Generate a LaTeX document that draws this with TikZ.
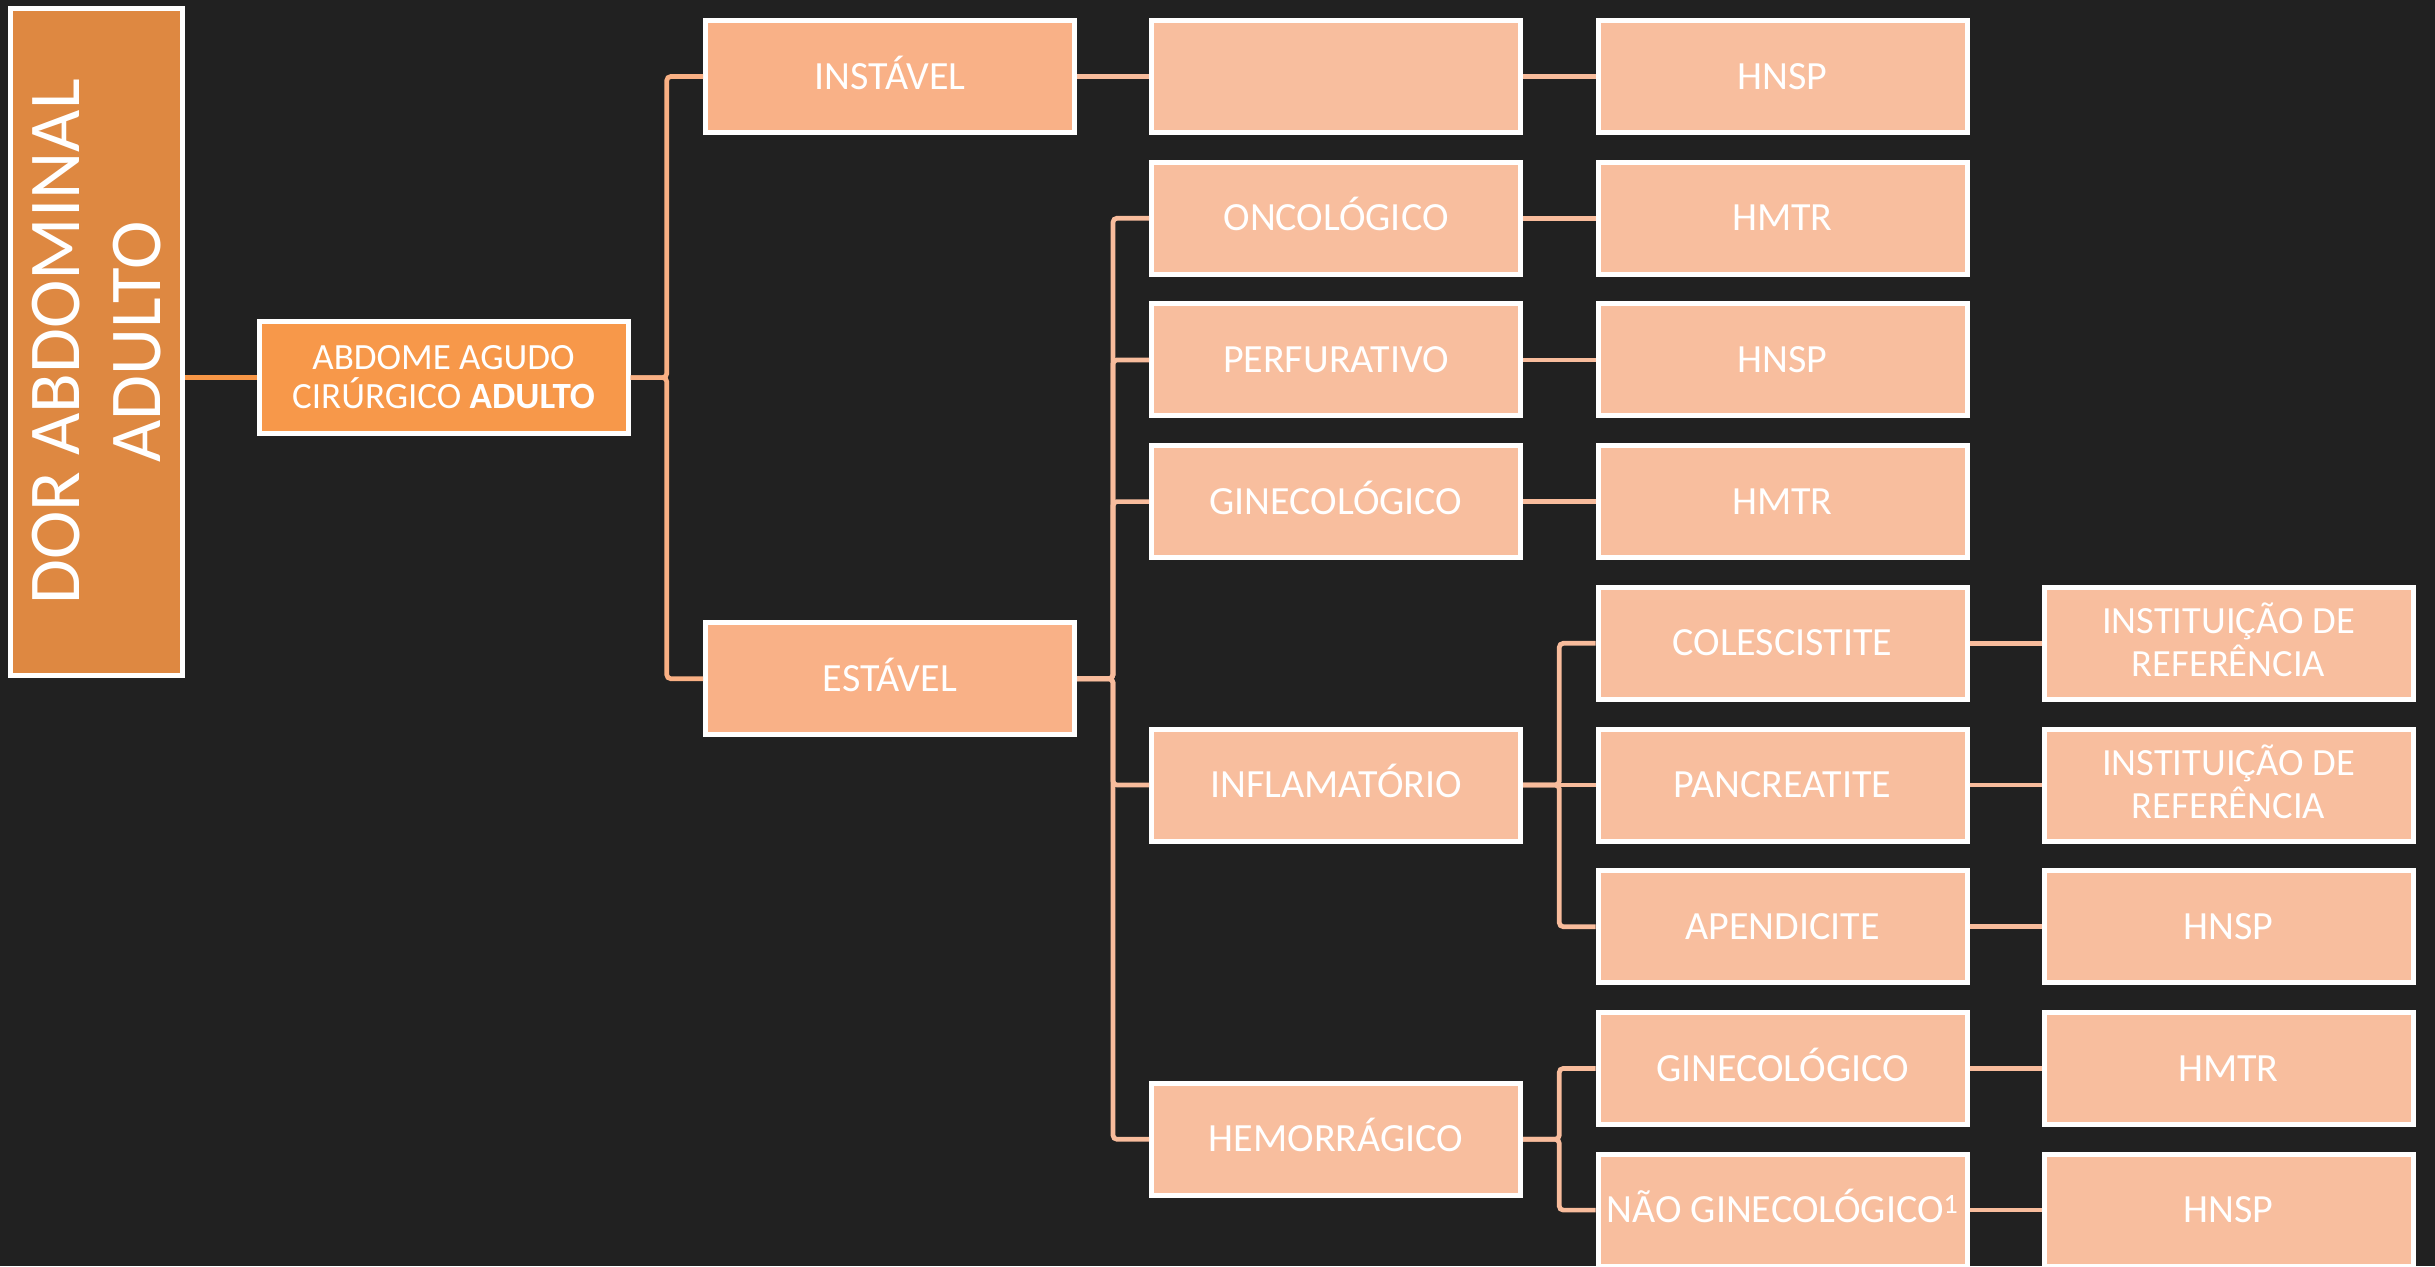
\documentclass[tikz,border=0pt]{standalone}
\usepackage{fontspec}
\setmainfont{Carlito}
\usetikzlibrary{calc}
\definecolor{bgc}{HTML}{212121}
\definecolor{dorfill}{HTML}{DE8841}
\definecolor{abdfill}{HTML}{F7984A}
\definecolor{lvtwo}{HTML}{F9B187}
\definecolor{lvthree}{HTML}{F8BE9E}
\definecolor{conone}{HTML}{F79646}
\definecolor{contwo}{HTML}{F9B084}
\definecolor{conthree}{HTML}{F8BC9C}
\newcommand\myelbow[3]{\draw[#1] (#2.east) -- ($(#2.east)!0.5!(#2.east -| #3.west)$) |- (#3.west);}
\newcommand\mystraight[3]{\draw[#1] (#2.east) -- (#3.west);}
\begin{document}
\begin{tikzpicture}[x=1pt,y=-1pt,
  box/.style={draw=white,line width=5pt,minimum width=369pt,minimum height=112pt,
    inner sep=0pt,align=center,text=white,font=\fontsize{40}{43}\selectfont,
    text height=25.3pt,text depth=0pt},
  boxtwo/.style={box,fill=lvtwo},
  boxthree/.style={box,fill=lvthree},
  twoline/.style={font=\fontsize{38.5}{43}\selectfont,text height=67.3pt,text depth=0pt},
  link/.style={line width=4.7pt,rounded corners=4pt},
  linkone/.style={link,draw=conone},
  linktwo/.style={link,draw=contwo},
  linkthree/.style={link,draw=conthree}]
\fill[bgc] (0,0) rectangle (2435,1266);
\useasboundingbox (0,0) rectangle (2435,1266);
% columns: 443.5, 890, 1336, 1782.5, 2228.5 ; rows pitch 141.7 from 76.5
\node[box,fill=dorfill,minimum width=667pt,minimum height=172pt,rotate=90,
  font=\fontsize{73}{81}\selectfont,text height=127pt,text depth=0pt] (dor) at (96.5,342) {DOR ABDOMINAL\\ADULTO};
\node[box,fill=abdfill,font=\fontsize{37}{39}\selectfont,text height=62.4pt,text depth=0pt] (abd) at (443.5,377.6) {ABDOME AGUDO\\CIRÚRGICO \textbf{ADULTO}};
\node[boxtwo] (inst) at (890,76.5) {INSTÁVEL};
\node[boxtwo] (est) at (890,678.7) {ESTÁVEL};
\node[boxthree] (blank) at (1336,76.5) {};
\node[boxthree] (hnspa) at (1782.5,76.5) {HNSP};
\node[boxthree] (onc) at (1336,218.2) {ONCOLÓGICO};
\node[boxthree] (hmtra) at (1782.5,218.2) {HMTR};
\node[boxthree] (perf) at (1336,359.9) {PERFURATIVO};
\node[boxthree] (hnspb) at (1782.5,359.9) {HNSP};
\node[boxthree] (gin) at (1336,501.6) {GINECOLÓGICO};
\node[boxthree] (hmtrb) at (1782.5,501.6) {HMTR};
\node[boxthree] (cole) at (1782.5,643.3) {COLESCISTITE};
\node[boxthree,twoline] (ira) at (2228.5,643.3) {INSTITUIÇÃO DE\\REFERÊNCIA};
\node[boxthree] (infl) at (1336,785) {INFLAMATÓRIO};
\node[boxthree] (panc) at (1782.5,785) {PANCREATITE};
\node[boxthree,twoline] (irb) at (2228.5,785) {INSTITUIÇÃO DE\\REFERÊNCIA};
\node[boxthree] (apen) at (1782.5,926.7) {APENDICITE};
\node[boxthree] (hnspc) at (2228.5,926.7) {HNSP};
\node[boxthree] (hem) at (1336,1139.3) {HEMORRÁGICO};
\node[boxthree] (ginb) at (1782.5,1068.4) {GINECOLÓGICO};
\node[boxthree] (hmtrc) at (2228.5,1068.4) {HMTR};
\node[boxthree] (nao) at (1782.5,1210.1) {NÃO GINECOLÓGICO\textsuperscript{1}};
\node[boxthree] (hnspd) at (2228.5,1210.1) {HNSP};
% connectors
\draw[linkone] (abd.west) -- (abd.west -| dor.south);
\myelbow{linktwo}{abd}{inst}
\myelbow{linktwo}{abd}{est}
\mystraight{linkthree}{inst}{blank}
\mystraight{linkthree}{blank}{hnspa}
\myelbow{linkthree}{est}{onc}
\myelbow{linkthree}{est}{perf}
\myelbow{linkthree}{est}{gin}
\myelbow{linkthree}{est}{infl}
\myelbow{linkthree}{est}{hem}
\mystraight{linkthree}{onc}{hmtra}
\mystraight{linkthree}{perf}{hnspb}
\mystraight{linkthree}{gin}{hmtrb}
\myelbow{linkthree}{infl}{cole}
\mystraight{linkthree}{infl}{panc}
\myelbow{linkthree}{infl}{apen}
\mystraight{linkthree}{cole}{ira}
\mystraight{linkthree}{panc}{irb}
\mystraight{linkthree}{apen}{hnspc}
\myelbow{linkthree}{hem}{ginb}
\myelbow{linkthree}{hem}{nao}
\mystraight{linkthree}{ginb}{hmtrc}
\mystraight{linkthree}{nao}{hnspd}
\end{tikzpicture}
\end{document}
